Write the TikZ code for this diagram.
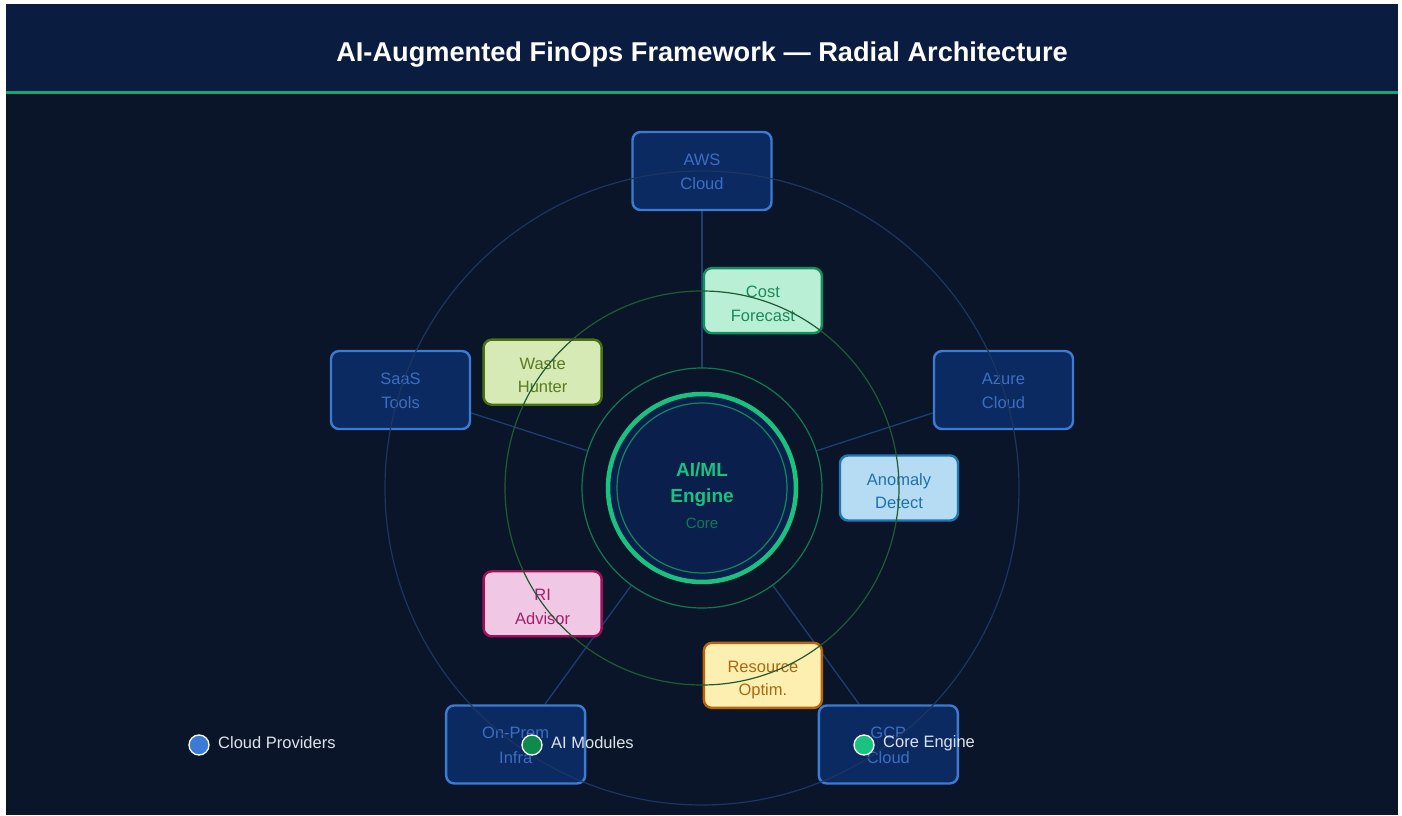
\documentclass[tikz,border=0pt]{standalone}
\usepackage{fontspec}
\setmainfont{Liberation Sans}
\usetikzlibrary{calc}

\definecolor{pagebg}{HTML}{0B1529}
\definecolor{headbg}{HTML}{0A1C3F}
\definecolor{accent}{HTML}{12A874}
\definecolor{orbitblue}{HTML}{1C3561}
\definecolor{spokeblue}{HTML}{1F3D70}
\definecolor{provfill}{HTML}{0C2A62}
\definecolor{provline}{HTML}{3B7BD4}
\definecolor{provtext}{HTML}{3C6EC0}
\definecolor{orbitgreen}{HTML}{1F5A32}
\definecolor{ringgreen}{HTML}{0F7A52}
\definecolor{coregreen}{HTML}{19C27F}
\definecolor{corefill}{HTML}{0B1F4D}
\definecolor{coredim}{HTML}{0F7A55}
\definecolor{legtext}{HTML}{DDE3EA}
\definecolor{aimod}{HTML}{0E8A4A}
% module palettes: fill, border, text
\definecolor{costF}{HTML}{B9F0D5}\definecolor{costD}{HTML}{129060}\definecolor{costT}{HTML}{1A8A5A}
\definecolor{anomF}{HTML}{B5DCF2}\definecolor{anomD}{HTML}{1F78B4}\definecolor{anomT}{HTML}{2070B0}
\definecolor{optF}{HTML}{FDEFB0}\definecolor{optD}{HTML}{B8650A}\definecolor{optT}{HTML}{A86A10}
\definecolor{riF}{HTML}{F0C8E6}\definecolor{riD}{HTML}{A0105A}\definecolor{riT}{HTML}{A0206A}
\definecolor{wasteF}{HTML}{D5EAB5}\definecolor{wasteD}{HTML}{4A7010}\definecolor{wasteT}{HTML}{5A7A20}

% two centred lines, set at a fixed offset from the box centre
\newcommand{\boxlines}[3][-6pt]{\raisebox{#1}[0pt][0pt]{\begin{tabular}{@{}c@{}}#2\\#3\end{tabular}}}

\pgfdeclarelayer{background}
\pgfdeclarelayer{foreground}
\pgfdeclarelayer{top}
\pgfsetlayers{background,main,foreground,top}

\tikzset{
  provider/.style={draw=provline, line width=2.4pt, fill=provfill, rounded corners=8pt,
    minimum width=139pt, minimum height=78pt, inner sep=0pt,
    text=provtext, font=\fontsize{16.5}{24.5}\selectfont},
  module/.style={line width=2.4pt, rounded corners=8pt,
    minimum width=118pt, minimum height=65pt, inner sep=0pt,
    font=\fontsize{16.5}{23.5}\selectfont},
  spoke/.style={draw=spokeblue, line width=1.3pt},
  legdot/.style={circle, draw=white, line width=1.3pt, minimum size=20pt, inner sep=0pt},
  legtxt/.style={anchor=west, text=legtext, font=\fontsize{16.5}{18}\selectfont, inner sep=0pt},
}

\begin{document}
\begin{tikzpicture}[x=1pt,y=1pt]
\useasboundingbox (0,0) rectangle (1402,816);

% page, header band and accent rule
\begin{pgfonlayer}{background}
\fill[white] (0,0) rectangle (1402,816);
\fill[pagebg] (6,1) rectangle (1398,812);
\fill[headbg] (6,724) rectangle (1398,812);
\fill[accent] (6,721.5) rectangle (1398,724.5);
\end{pgfonlayer}

\node[anchor=base, inner sep=0pt, text=white, font=\fontsize{27.2}{30}\bfseries\selectfont] (title) at (702,754)
  {AI-Augmented FinOps Framework — Radial Architecture};

\coordinate (O) at (702,328);

% cloud providers on the outer orbit
\node[provider] (aws)   at ($(O)+(90:317pt)$)   {\boxlines{AWS}{Cloud}};
\node[provider] (azure) at ($(O)+(18:317pt)$)   {\boxlines{Azure}{Cloud}};
\node[provider] (gcp)   at ($(O)+(-54:317pt)$)  {\boxlines{GCP}{Cloud}};
\node[provider] (onprem) at ($(O)+(-126:317pt)$) {\boxlines{On-Prem}{Infra}};
\node[provider] (saas)  at ($(O)+(162:317pt)$)  {\boxlines{SaaS}{Tools}};

% AI modules on the middle orbit
\node[module, fill=costF, draw=costD, text=costT] (cost)
  at ($(O)+(72:197pt)$) {\boxlines[-8.5pt]{Cost}{Forecast}};
\node[module, fill=anomF, draw=anomD, text=anomT] (anom)
  at ($(O)+(0:197pt)$) {\boxlines[-8.5pt]{Anomaly}{Detect}};
\node[module, fill=optF, draw=optD, text=optT] (optim)
  at ($(O)+(-72:197pt)$) {\boxlines[-8.5pt]{Resource}{Optim.}};
\node[module, fill=riF, draw=riD, text=riT] (ri)
  at ($(O)+(-144:197pt)$) {\boxlines[-8.5pt]{RI}{Advisor}};
\node[module, fill=wasteF, draw=wasteD, text=wasteT] (waste)
  at ($(O)+(144:197pt)$) {\boxlines[-8.5pt]{Waste}{Hunter}};

% spoke end points on the engine halo
\coordinate (h1) at ($(O)+(90:120pt)$);
\coordinate (h2) at ($(O)+(18:120pt)$);
\coordinate (h3) at ($(O)+(-54:120pt)$);
\coordinate (h4) at ($(O)+(-126:120pt)$);
\coordinate (h5) at ($(O)+(162:120pt)$);

\begin{pgfonlayer}{background}
\draw[spoke] (aws) -- (h1);
\draw[spoke] (azure) -- (h2);
\draw[spoke] (gcp) -- (h3);
\draw[spoke] (onprem) -- (h4);
\draw[spoke] (saas) -- (h5);
\draw[ringgreen, line width=1.2pt] (O) circle[radius=120pt];
\end{pgfonlayer}

% core engine
\node[circle, draw=coregreen, line width=4.5pt, fill=corefill, minimum size=188pt, inner sep=0pt] (core) at (O) {};
\draw[ringgreen!80!coregreen, line width=1.2pt] (core.center) circle[radius=85pt];
\node[anchor=base, text=coregreen, font=\fontsize{19}{22}\bfseries\selectfont, inner sep=0pt] (ailabel) at (702,339) {AI/ML};
\node[anchor=base, text=coregreen, font=\fontsize{19}{22}\bfseries\selectfont, inner sep=0pt] (englabel) at (702,313) {Engine};
\node[anchor=base, text=coredim, font=\fontsize{15}{18}\selectfont, inner sep=0pt] (corelabel) at (702,287) {Core};

% orbits
\begin{pgfonlayer}{foreground}
\draw[orbitblue, line width=1.2pt] (O) circle[radius=317pt];
\draw[orbitgreen, line width=1.2pt] (O) circle[radius=197pt];
\end{pgfonlayer}

% legend
\begin{pgfonlayer}{top}
\node[legdot, fill=provline] (d1) at (199,71) {};
\node[legtxt] (l1) at (218,73) {Cloud Providers};
\node[legdot, fill=aimod] (d2) at (532,71) {};
\node[legtxt] (l2) at (551,73) {AI Modules};
\node[legdot, fill=coregreen] (d3) at (864,71) {};
\node[legtxt] (l3) at (883,73) {Core Engine};
\end{pgfonlayer}
\end{tikzpicture}
\end{document}
